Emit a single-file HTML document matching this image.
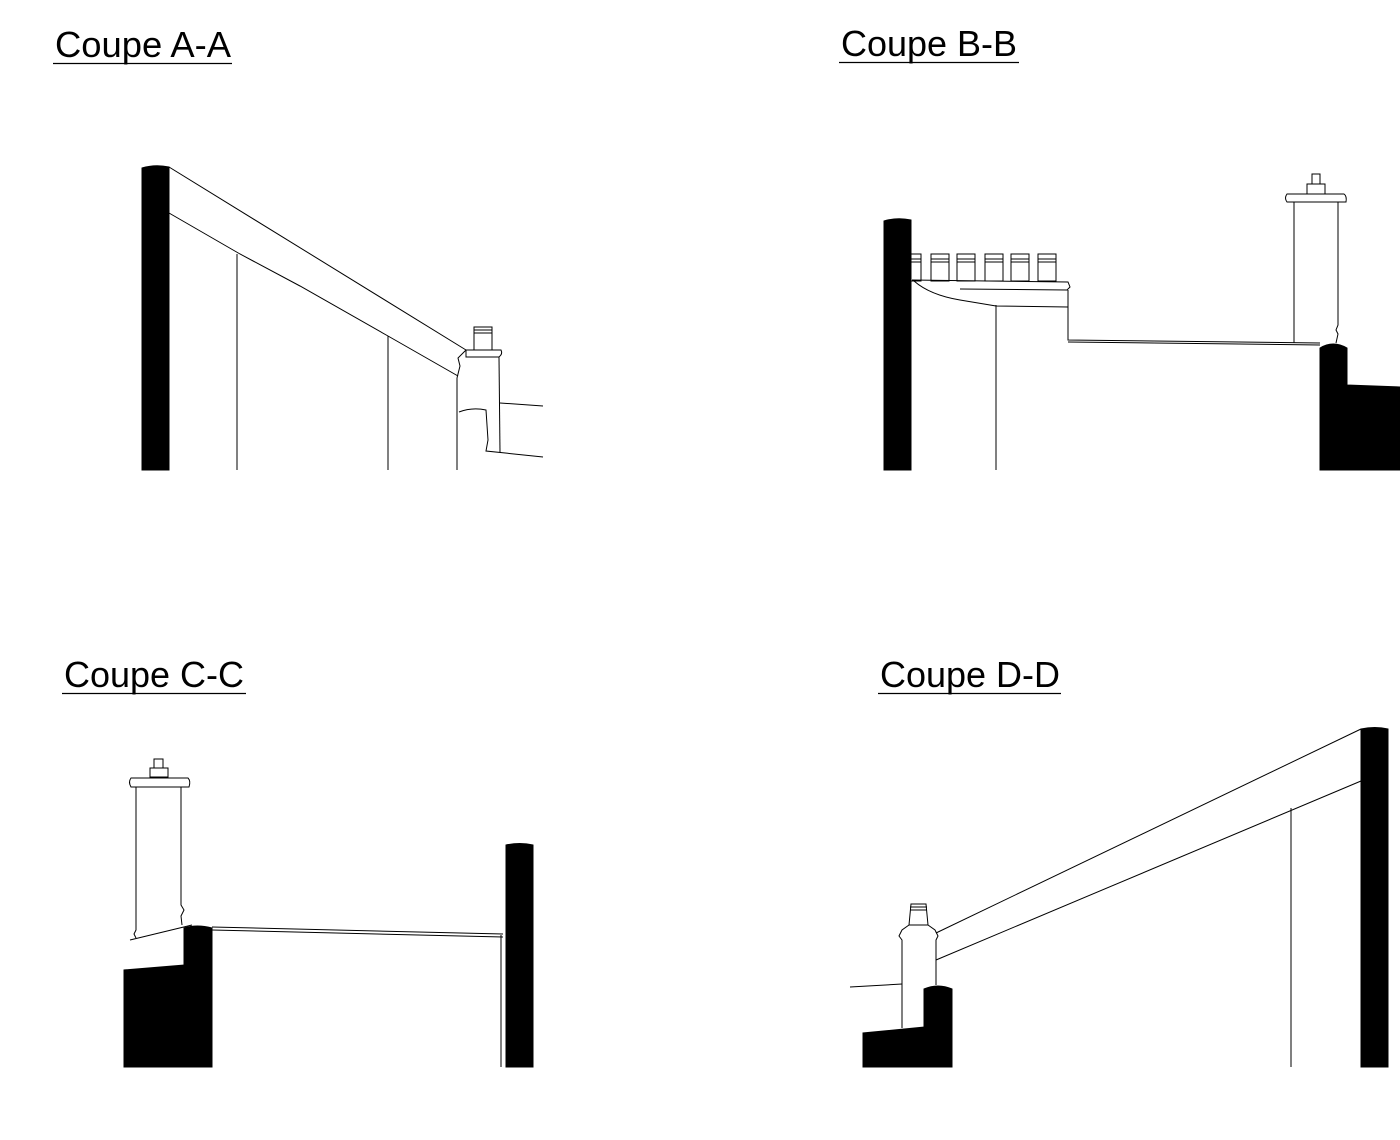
<!DOCTYPE html>
<html><head><meta charset="utf-8"><style>
html,body{margin:0;padding:0;background:#fff;width:1400px;height:1140px;overflow:hidden}
svg{display:block}
text{font-family:"Liberation Sans",Arial,sans-serif;font-size:36px;fill:#000}
</style></head><body>
<svg width="1400" height="1140" viewBox="0 0 1400 1140" xmlns="http://www.w3.org/2000/svg">
<g>
<text x="55" y="57" textLength="176" lengthAdjust="spacingAndGlyphs">Coupe A-A</text>
<line x1="53" y1="63.5" x2="232" y2="63.5" stroke="#000" stroke-width="1.3"/>
<text x="841" y="56" textLength="176" lengthAdjust="spacingAndGlyphs">Coupe B-B</text>
<line x1="839" y1="62.5" x2="1019" y2="62.5" stroke="#000" stroke-width="1.3"/>
<text x="64" y="687" textLength="180" lengthAdjust="spacingAndGlyphs">Coupe C-C</text>
<line x1="62" y1="693.5" x2="246" y2="693.5" stroke="#000" stroke-width="1.3"/>
<text x="880" y="687" textLength="180" lengthAdjust="spacingAndGlyphs">Coupe D-D</text>
<line x1="878" y1="693.5" x2="1061" y2="693.5" stroke="#000" stroke-width="1.3"/>
</g>

<g fill="none" stroke="#000" stroke-width="1">
<!-- A-A -->
<path d="M142,470 L142,168 Q155,164 169,167 L169,470 Z" fill="#000"/>
<path d="M169,167 L466,350"/>
<path d="M169,213 L240,254 L300,286 L388,336 L458,376"/>
<path d="M466,350 L458,358 L460,366 L457,378"/>
<line x1="237" y1="254" x2="237" y2="470"/>
<line x1="388" y1="336" x2="388" y2="470"/>
<line x1="457" y1="378" x2="457" y2="470"/>
<rect x="474" y="327" width="18" height="23"/>
<line x1="474" y1="330" x2="492" y2="330"/><line x1="474" y1="333" x2="492" y2="333"/>
<path d="M466,350 L501,350 Q503,354 499,357 L466,357 Z"/>
<path d="M499,357 L500,452"/>
<path d="M459,412 Q472,407 486,410 L488,440 L486,451 L543,457"/>
<path d="M500,403 L543,406"/>
<!-- B-B -->
<path d="M884,470 L884,221 Q897,217 911,220 L911,470 Z" fill="#000"/>
<g stroke="#000">
<rect x="911" y="254" width="10" height="27"/>
<rect x="931" y="254" width="18" height="27"/>
<rect x="957" y="254" width="18" height="27"/>
<rect x="985" y="254" width="18" height="27"/>
<rect x="1011" y="254" width="18" height="27"/>
<rect x="1038" y="254" width="18" height="27"/>
</g>
<g stroke-width="1">
<path d="M911,259h10 M931,259h18 M957,259h18 M985,259h18 M1011,259h18 M1038,259h18"/>
<path d="M911,262h10 M931,262h18 M957,262h18 M985,262h18 M1011,262h18 M1038,262h18"/>
</g>
<path d="M912,280 L1068,282 L1070,287 L1067,290 L960,289"/>
<path d="M914,281 Q930,295 960,300 L996,306 L1068,307"/>
<line x1="996" y1="305" x2="996" y2="470"/>
<path d="M1068,290 L1068,340 L1320,343"/>
<path d="M1068,342 L1320,345"/>
<rect x="1312" y="174" width="8" height="10"/>
<rect x="1307" y="184" width="18" height="10"/>
<path d="M1287,194 L1344,194 Q1347,196 1346,202 L1287,202 Q1284,198 1287,194 Z"/>
<line x1="1294" y1="202" x2="1294" y2="343"/>
<path d="M1338,202 L1338,325 L1336,330 L1338,334 L1336,343"/>
<path d="M1320,470 L1320,348 Q1333,340 1347,348 L1347,385 L1400,387 L1400,470 Z" fill="#000"/>
<!-- C-C -->
<rect x="154" y="759" width="9" height="9"/>
<rect x="150" y="768" width="18" height="9"/>
<path d="M131,778 L188,778 Q191,781 189,787 L131,787 Q128,782 131,778 Z"/>
<path d="M136,787 L136,930 L134,934 L136,938"/>
<path d="M181,787 L181,905 L184,910 L181,916 L182,925"/>
<line x1="130" y1="940" x2="192" y2="925"/>
<path d="M184,1067 L184,928 Q197,924 212,928 L212,1067 Z" fill="#000"/>
<path d="M124,1067 L124,970 L184,965 L184,1067 Z" fill="#000"/>
<path d="M212,927 L503,934"/>
<path d="M212,930 L503,937"/>
<line x1="501" y1="935" x2="501" y2="1067"/>
<path d="M506,1067 L506,845 Q520,842 533,845 L533,1067 Z" fill="#000"/>
<!-- D-D -->
<path d="M1361,1067 L1361,729 Q1375,726 1388,729 L1388,1067 Z" fill="#000"/>
<line x1="936" y1="933" x2="1361" y2="729"/>
<line x1="936" y1="960" x2="1361" y2="781"/>
<line x1="1291" y1="808" x2="1291" y2="1067"/>
<path d="M911,904 L926,904 L928,925 L909,925 Z"/>
<line x1="910" y1="907" x2="927" y2="907"/><line x1="910" y1="910" x2="927" y2="910"/>
<path d="M909,925 L902,930 L899,936 L902,940 L902,1028"/>
<path d="M928,925 L935,930 L938,936 L936,940 L936,985"/>
<line x1="850" y1="987" x2="902" y2="984"/>
<path d="M924,1067 L924,989 Q938,983 952,989 L952,1067 Z" fill="#000"/>
<path d="M863,1067 L863,1033 L924,1027 L924,1067 Z" fill="#000"/>
</g>
</svg>
</body></html>
